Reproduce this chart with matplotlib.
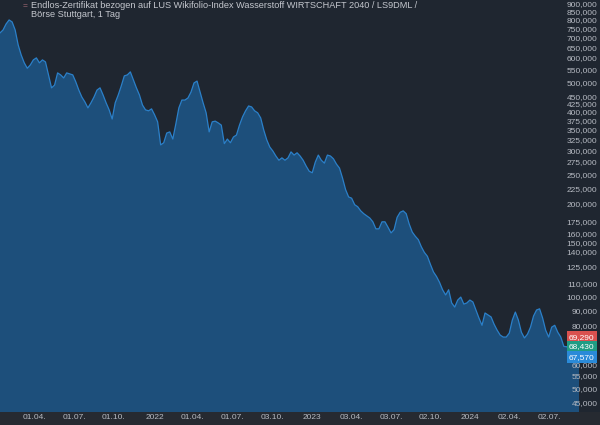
import matplotlib
matplotlib.use("Agg")
import matplotlib.pyplot as plt
from matplotlib.ticker import FixedLocator, FuncFormatter, NullLocator
import pandas as pd

title = ("Endlos-Zertifikat bezogen auf LUS Wikifolio-Index Wasserstoff WIRTSCHAFT 2040 / LS9DML /\n"
         "Börse Stuttgart, 1 Tag")

# weekly closes
start_date = "2021-01-11"
prices = [
    724000, 740000, 774000, 798000, 786000, 740000, 661000, 613000, 578000, 555000,
    569000, 591000, 600000, 578000, 591000, 582000, 528000, 479000, 489000, 536000,
    528000, 516000, 536000, 532000, 528000, 501000, 471000, 447000, 431000, 412000,
    428000, 447000, 471000, 479000, 454000, 428000, 406000, 379000, 428000, 454000,
    486000, 524000, 528000, 540000, 508000, 479000, 454000, 421000, 406000, 403000,
    409000, 391000, 371000, 312000, 317000, 341000, 344000, 326000, 365000, 412000,
    437000, 437000, 444000, 464000, 497000, 504000, 464000, 428000, 397000, 344000,
    371000, 373000, 368000, 362000, 315000, 326000, 317000, 331000, 336000, 362000,
    385000, 403000, 418000, 415000, 403000, 397000, 382000, 349000, 324000, 307000,
    298000, 287000, 278000, 283000, 278000, 283000, 296000, 289000, 294000, 287000,
    278000, 266000, 256000, 253000, 274000, 289000, 278000, 272000, 289000, 287000,
    281000, 270000, 262000, 243000, 223000, 211000, 209000, 199000, 196000, 190000,
    186000, 183000, 180000, 175000, 166000, 166000, 175000, 175000, 168000, 161000,
    165000, 181000, 188000, 190000, 186000, 172000, 162000, 157000, 153000, 145000,
    139000, 135000, 127000, 120000, 116000, 111000, 105000, 101000, 105000, 95100,
    92200, 97200, 99400, 94300, 95100, 97200, 95800, 90200, 84900, 80400,
    88200, 86900, 85600, 81000, 77500, 74700, 73600, 73600, 75800, 83600,
    88800, 83600, 76300, 73100, 75200, 79300, 86200, 90200, 91000, 84900,
    77500, 73600, 79300, 80400, 76300, 73600, 68600, 68430, 66500, 67570,
    69290, 68430,
]
dates = pd.date_range(start_date, periods=len(prices), freq="7D")

price_ticks = [900000, 850000, 800000, 750000, 700000, 650000, 600000, 550000, 500000,
               450000, 425000, 400000, 375000, 350000, 325000, 300000, 275000, 250000,
               225000, 200000, 175000, 160000, 150000, 140000, 125000, 110000, 100000,
               90000, 80000, 60000, 55000, 50000, 45000]

date_ticks = ["2021-04-01", "2021-07-01", "2021-10-01", "2022-01-03", "2022-04-01",
              "2022-07-01", "2022-10-03", "2023-01-02", "2023-04-03", "2023-07-03",
              "2023-10-02", "2024-01-02", "2024-04-02", "2024-07-02"]
date_labels = ["01.04.", "01.07.", "01.10.", "2022", "01.04.", "01.07.", "03.10.",
               "2023", "03.04.", "03.07.", "02.10.", "2024", "02.04.", "02.07."]

last_values = [69290, 68430, 67570]
last_colors = ["#d9514f", "#1f9c84", "#2a8ad8"]
last_shift = [-8, 0, 9]  # pixels, labels are stacked so they don't overlap

bg = "#1f2630"
fill_col = "#1d4f7b"
line_col = "#2b80c9"
text_col = "#b6bac2"

plt.rcParams["font.family"] = ["Liberation Sans", "DejaVu Sans"]

fig = plt.figure(figsize=(6, 4.25), dpi=100)
fig.patch.set_facecolor(bg)

# bottom time-scale strip
fig.patches.append(plt.Rectangle((0, 0), 1, 13 / 425, transform=fig.transFigure,
                                 facecolor="#262a31", edgecolor="none", zorder=-1))

ax = fig.add_axes([0, 13 / 425, 579 / 600, 412 / 425])
ax.set_facecolor(bg)
ax.set_yscale("log")
ax.set_ylim(41900, 927000)
ax.set_xlim(dates[0], dates[-1])

ax.fill_between(dates, prices, 1000, color=fill_col, linewidth=0, zorder=1)
ax.plot(dates, prices, color=line_col, linewidth=0.9, zorder=2)

for s in ax.spines.values():
    s.set_visible(False)

ax.yaxis.tick_right()
ax.yaxis.set_major_locator(FixedLocator(price_ticks))
ax.yaxis.set_minor_locator(NullLocator())
ax.yaxis.set_major_formatter(FuncFormatter(lambda v, p: f"{v:,.0f}"))
ax.tick_params(axis="y", length=0, pad=13.3, labelsize=6.0, labelcolor=text_col)
for lab in ax.get_yticklabels():
    lab.set_horizontalalignment("right")

ax.set_xticks(pd.to_datetime(date_ticks))
ax.set_xticklabels(date_labels)
ax.tick_params(axis="x", length=0, pad=1.3, labelsize=6.0, labelcolor=text_col)

for val, col, dy in zip(last_values, last_colors, last_shift):
    ax.annotate(f"{val:,}", xy=(1, val), xycoords=("axes fraction", "data"),
                xytext=(-10, -dy), textcoords="offset pixels", ha="left", va="center",
                fontsize=6.0, color="white", annotation_clip=False, zorder=5,
                bbox=dict(boxstyle="square,pad=0.3", facecolor=col, edgecolor="none"))

fig.text(23 / 600, 1 - 7 / 425, "=", color="#b0707c", fontsize=6, va="center")
fig.text(31 / 600, 1 - 1 / 425, title, color="#c4c7ce", fontsize=6.6, va="top",
         ha="left", linespacing=1.05)

fig.savefig("out.png", dpi=100, facecolor=bg)
